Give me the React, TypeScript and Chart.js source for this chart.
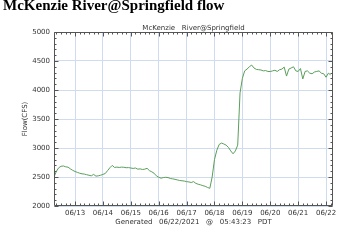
import React, { useEffect, useRef } from "react";
import { Chart, registerables } from "chart.js";

Chart.register(...registerables);

const pageTitle = "McKenzie River@Springfield flow";
const chartTitle = "McKenzie   River@Springfield";
const footerText = "Generated   06/22/2021   @   05:43:23   PDT";
const yAxisLabel = "Flow(CFS)";

// readings: hours after 06/12 00:00, one every two hours
const startHour = 6;
const stepHours = 2;
const flows = [
  2505, 2600, 2660, 2685, 2690, 2675, 2670, 2640, 2615, 2595,
  2580, 2565, 2555, 2550, 2540, 2530, 2520, 2545, 2515, 2520,
  2530, 2545, 2560, 2610, 2660, 2700, 2665, 2670, 2665, 2670,
  2668, 2660, 2662, 2655, 2648, 2655, 2635, 2640, 2630, 2635,
  2650, 2610, 2590, 2565, 2520, 2495, 2480, 2490, 2495, 2490,
  2475, 2468, 2460, 2450, 2440, 2435, 2430, 2420, 2415, 2405,
  2420, 2390, 2375, 2365, 2350, 2340, 2320, 2305, 2500, 2800,
  2960, 3060, 3085, 3070, 3050, 3010, 2950, 2900, 2950, 3050,
  3950, 4200, 4330, 4360, 4400, 4430, 4380, 4355, 4350, 4345,
  4330, 4335, 4320, 4318, 4330, 4340, 4320, 4350, 4360, 4395,
  4240, 4360, 4380, 4400, 4330, 4320, 4370, 4190, 4320, 4330,
  4290, 4280, 4310, 4320, 4330, 4290, 4280, 4220, 4290, 4260,
];

const xMinHour = 5.9;
const xMaxHour = 246;
const dayTickHours = [24, 48, 72, 96, 120, 144, 168, 192, 216, 240];
const dayTickLabels = ["06/13", "06/14", "06/15", "06/16", "06/17", "06/18", "06/19", "06/20", "06/21", "06/22"];
const yMin = 2000;
const yMax = 5000;
const yStep = 500;

const FONT = '"DejaVu Sans", sans-serif';
const TEXT = "#333";

const framePlugin = {
  id: "frame",
  afterDatasetsDraw(chart: any) {
    const { ctx, chartArea: a, scales } = chart;
    const x = scales.x;
    const y = scales.y;
    const L = Math.round(a.left) + 0.5;
    const R = Math.round(a.right) - 0.5;
    const T = Math.round(a.top) + 0.5;
    const B = Math.round(a.bottom) - 0.5;
    ctx.save();
    ctx.strokeStyle = "#555";
    ctx.lineWidth = 1;
    ctx.beginPath();
    ctx.rect(L, T, R - L, B - T);
    for (let h = Math.ceil(xMinHour / 4) * 4; h <= xMaxHour; h += 4) {
      const px = Math.round(x.getPixelForValue(h)) + 0.5;
      const len = h % 24 === 0 ? 4 : 2;
      ctx.moveTo(px, B);
      ctx.lineTo(px, B - len);
      ctx.moveTo(px, T);
      ctx.lineTo(px, T + len);
    }
    for (let v = yMin; v <= yMax; v += 100) {
      const py = Math.round(y.getPixelForValue(v)) + 0.5;
      const len = v % 500 === 0 ? 4 : 2;
      ctx.moveTo(L, py);
      ctx.lineTo(L + len, py);
      ctx.moveTo(R, py);
      ctx.lineTo(R - len, py);
    }
    ctx.stroke();
    ctx.fillStyle = TEXT;
    ctx.font = `7px ${FONT}`;
    ctx.textAlign = "center";
    ctx.textBaseline = "middle";
    ctx.fillText(chartTitle, (a.left + a.right) / 2, 28);
    ctx.restore();
  },
};

export default function App() {
  const ref = useRef<HTMLCanvasElement | null>(null);

  useEffect(() => {
    if (!ref.current) return;
    const points = flows.map((v, i) => ({ x: startHour + i * stepHours, y: v }));
    const chart = new Chart(ref.current, {
      type: "line",
      data: {
        datasets: [
          {
            data: points,
            borderColor: "#5a9e5a",
            borderWidth: 1,
            pointRadius: 0,
            tension: 0,
            fill: false,
          },
        ],
      },
      options: {
        animation: false,
        responsive: false,
        maintainAspectRatio: false,
        layout: { padding: { left: 0, right: 17, top: 32, bottom: 0 } },
        plugins: { legend: { display: false }, tooltip: { enabled: false }, title: { display: false } },
        scales: {
          x: {
            type: "linear",
            min: xMinHour,
            max: xMaxHour,
            afterBuildTicks: (scale: any) => {
              scale.ticks = dayTickHours.map((h) => ({ value: h }));
            },
            afterFit: (scale: any) => {
              scale.height = 44;
            },
            ticks: {
              autoSkip: false,
              maxRotation: 0,
              padding: 3,
              color: TEXT,
              font: { family: FONT, size: 7 },
              callback: (v: any) => {
                const idx = dayTickHours.indexOf(Number(v));
                return idx >= 0 ? dayTickLabels[idx] : "";
              },
            },
            grid: { color: "#cfdcee", lineWidth: 1, drawTicks: false },
            border: { display: false },
            title: {
              display: true,
              text: footerText,
              color: TEXT,
              font: { family: FONT, size: 7 },
              padding: { top: 0, bottom: 24 },
            },
          },
          y: {
            min: yMin,
            max: yMax,
            afterFit: (scale: any) => {
              scale.width = 54;
            },
            ticks: {
              stepSize: yStep,
              padding: 4,
              color: TEXT,
              font: { family: FONT, size: 7 },
              callback: (v: any) => String(v),
            },
            grid: { color: "#cfdcee", lineWidth: 1, drawTicks: false },
            border: { display: false },
            title: {
              display: true,
              text: yAxisLabel,
              color: TEXT,
              font: { family: FONT, size: 7 },
              padding: { top: 21, bottom: 0 },
            },
          },
        },
      },
      plugins: [framePlugin],
    });
    return () => chart.destroy();
  }, []);

  return (
    <div style={{ position: "absolute", left: 0, top: 0, width: 350, height: 250, background: "#fff", overflow: "hidden" }}>
      <canvas ref={ref} width={350} height={250} style={{ position: "absolute", left: 0, top: 0, width: 350, height: 250 }} />
      <div
        style={{
          position: "absolute",
          left: 3,
          top: -3,
          fontFamily: '"Liberation Serif", "Times New Roman", serif',
          fontWeight: "bold",
          fontSize: 15,
          lineHeight: "16px",
          color: "#000",
          whiteSpace: "nowrap",
        }}
      >
        {pageTitle}
      </div>
    </div>
  );
}
